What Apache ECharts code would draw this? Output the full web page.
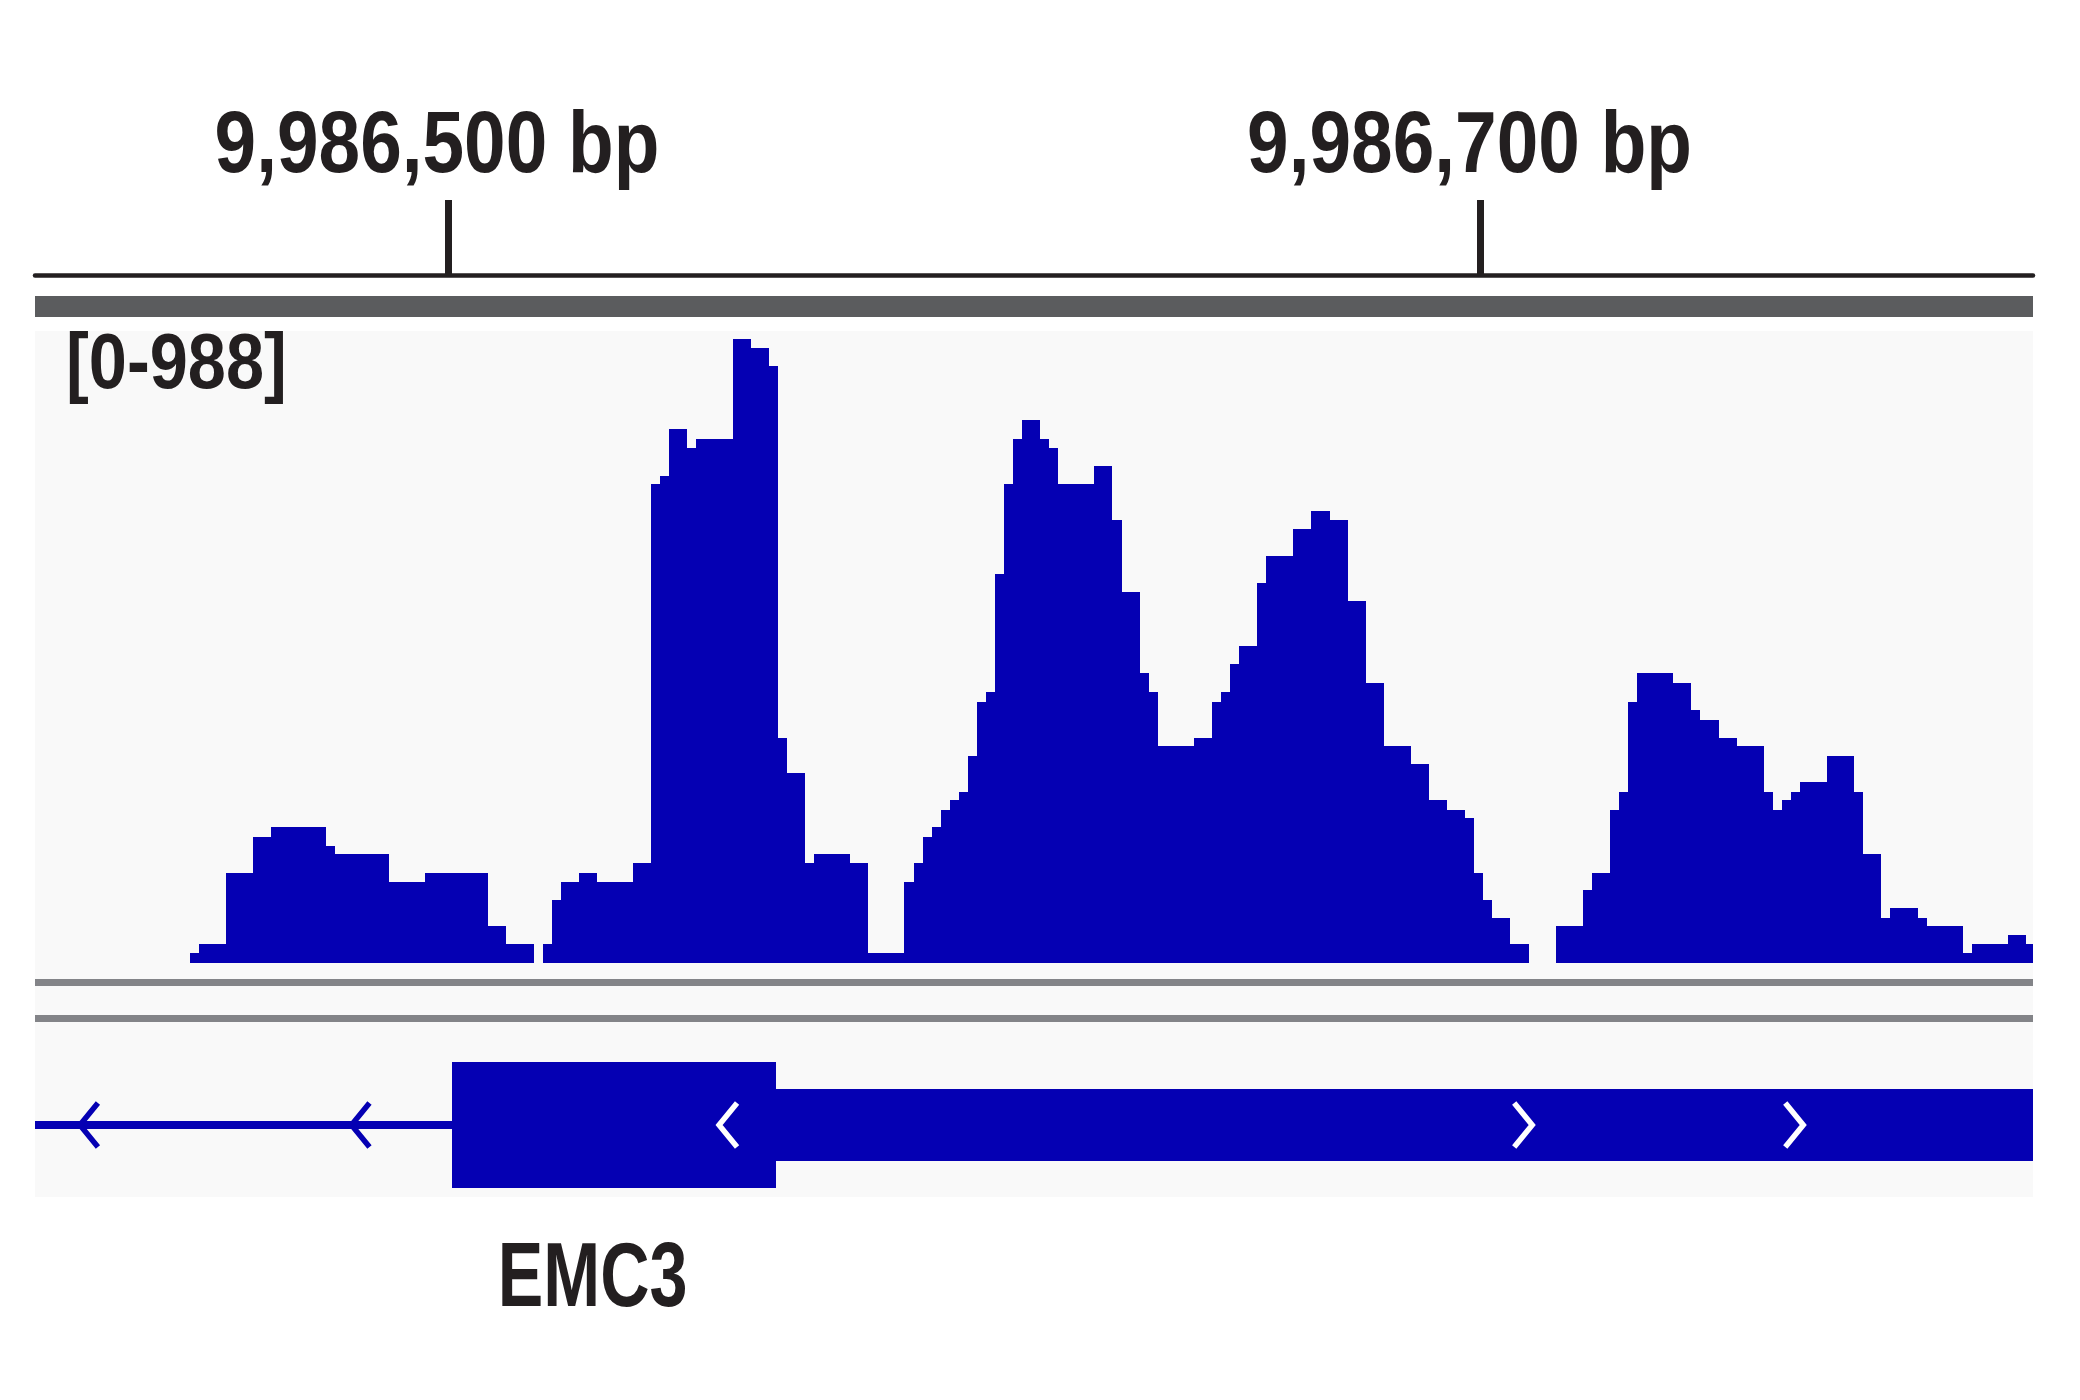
<!DOCTYPE html>
<html>
<head>
<meta charset="utf-8">
<script src="https://cdn.jsdelivr.net/npm/echarts@6/dist/echarts.min.js"></script>
<style>
html,body{margin:0;padding:0;background:#ffffff;}
#chart{width:2080px;height:1400px;}
</style>
</head>
<body>
<div id="chart"></div>
<script>
// ---------------- data ----------------
const regionStart = 9986420;          // bp at left edge of view
const regionEnd = 9986807;            // bp at right edge of view
const rulerTicks = [9986500, 9986700];
const binStart = 9986450;             // bp where first coverage bin starts
const binSize = 1.752;                // bp per coverage bin
const coverage = [
  16, 30, 30, 30, 143, 143, 143, 200, 200, 215,
  215, 215, 215, 215, 215, 186, 172, 172, 172, 172,
  172, 172, 129, 129, 129, 129, 143, 143, 143, 143,
  143, 143, 143, 58, 58, 30, 30, 30, 0, 30,
  100, 129, 129, 143, 143, 129, 129, 129, 129, 158,
  158, 758, 771, 846, 846, 815, 829, 829, 829, 829,
  988, 988, 973, 973, 945, 357, 301, 301, 158, 172,
  172, 172, 172, 158, 158, 16, 16, 16, 16, 129,
  158, 200, 215, 243, 258, 271, 328, 414, 429, 616,
  758, 829, 859, 859, 829, 815, 758, 758, 758, 758,
  787, 787, 701, 587, 587, 459, 429, 344, 344, 344,
  344, 357, 357, 414, 429, 473, 502, 502, 601, 644,
  644, 644, 687, 687, 715, 715, 701, 701, 573, 573,
  444, 444, 344, 344, 344, 315, 315, 258, 258, 243,
  243, 229, 143, 100, 72, 72, 30, 30, 0, 0,
  0, 58, 58, 58, 115, 143, 143, 243, 271, 414,
  459, 459, 459, 459, 444, 444, 400, 385, 385, 357,
  357, 344, 344, 344, 271, 243, 258, 271, 286, 286,
  286, 328, 328, 328, 271, 172, 172, 72, 87, 87,
  87, 72, 58, 58, 58, 58, 16, 30, 30, 30,
  30, 45, 45, 30
];
const dataRangeMin = 0;
const dataRangeMax = 988;
const geneName = 'EMC3';
const geneNamePos = 9986528;
const intronParts = [[9986420, 9986500.7]];
const cdsParts = [[9986500.7, 9986563.6]];
const utrParts = [[9986563.6, 9986815]];
const strandTips = [9986428.7, 9986481.3, 9986552.5, 9986710, 9986762.5];
const strandDirs = [-1, -1, -1, 1, 1];   // -1 = '<', 1 = '>'

// ---------------- style / layout ----------------
const BLUE = '#0500b3';
const INK = '#231f20';
const FONT = "'Liberation Sans', Arial, Helvetica, sans-serif";
const L = 35, R = 47, W = 2080 - L - R;

const coverageData = coverage.map((v, i) => [binStart + i * binSize, binStart + (i + 1) * binSize, v]);
const geneParts = []
  .concat(intronParts.map(p => [p[0], p[1], 0]))
  .concat(utrParts.map(p => [p[0], p[1], 1]))
  .concat(cdsParts.map(p => [p[0], p[1], 2]));
const partHeightPx = [8, 72, 126];
const exonParts = cdsParts.concat(utrParts);

const chart = echarts.init(document.getElementById('chart'), null, {renderer: 'canvas'});
chart.setOption({
  backgroundColor: '#ffffff',
  animation: false,
  graphic: [
    {type: 'rect', z: 0, shape: {x: L, y: 296, width: W, height: 21}, style: {fill: '#5b5c5e'}},
    {type: 'rect', z: 0, shape: {x: L, y: 331, width: W, height: 866}, style: {fill: '#f9f9f9'}},
    {type: 'rect', z: 0, shape: {x: L, y: 979, width: W, height: 7}, style: {fill: '#838488'}},
    {type: 'rect', z: 0, shape: {x: L, y: 1015, width: W, height: 7}, style: {fill: '#838488'}},
    {type: 'text', z: 5, x: 66, y: 367, scaleX: 0.89,
      style: {text: '[' + dataRangeMin + '-' + dataRangeMax + ']', x: 0, y: 0,
      font: 'bold 77px ' + FONT, fill: INK, align: 'left', verticalAlign: 'middle'}}
  ],
  grid: [
    {left: L, right: R, top: 339, height: 624},
    {left: L, right: R, top: 1062, height: 126}
  ],
  xAxis: [
    {
      gridIndex: 0, type: 'value', min: regionStart, max: regionEnd,
      position: 'top', offset: 64,
      axisLine: {show: true, onZero: false, lineStyle: {color: INK, width: 4.5}},
      axisTick: {show: true, customValues: rulerTicks, length: 75, inside: false,
        lineStyle: {color: INK, width: 7}},
      axisLabel: {show: false},
      splitLine: {show: false}
    },
    {
      gridIndex: 1, type: 'value', min: regionStart, max: regionEnd, show: false
    }
  ],
  yAxis: [
    {gridIndex: 0, type: 'value', min: dataRangeMin, max: dataRangeMax, show: false},
    {gridIndex: 1, type: 'value', min: 0, max: 1, show: false}
  ],
  series: [
    {
      type: 'custom', name: 'coverage', xAxisIndex: 0, yAxisIndex: 0, clip: true,
      data: coverageData,
      renderItem: function (params, api) {
        const v = api.value(2);
        if (!v) return null;
        const p0 = api.coord([api.value(0), 0]);
        const p1 = api.coord([api.value(1), v]);
        const x0 = Math.round(p0[0]), x1 = Math.round(p1[0]);
        const y0 = Math.round(p0[1]), y1 = Math.round(p1[1]);
        return {type: 'rect', shape: {x: x0, y: y1, width: x1 - x0, height: y0 - y1},
          style: {fill: BLUE}};
      }
    },
    {
      type: 'custom', name: 'rulerLabels', xAxisIndex: 0, yAxisIndex: 0, z: 4,
      data: rulerTicks.map(t => [t, dataRangeMax]),
      renderItem: function (params, api) {
        const p = api.coord([api.value(0), api.value(1)]);
        const txt = Number(api.value(0)).toLocaleString('en-US') + ' bp';
        return {type: 'text', x: p[0] - 11, y: p[1] - 191, scaleX: 0.85,
          style: {text: txt, x: 0, y: 0, font: 'bold 88px ' + FONT, fill: INK,
            align: 'center', verticalAlign: 'middle'}};
      }
    },
    {
      type: 'custom', name: 'gene', xAxisIndex: 1, yAxisIndex: 1, clip: true,
      data: geneParts,
      renderItem: function (params, api) {
        const s = api.coord([api.value(0), 0.5]);
        const e = api.coord([api.value(1), 0.5]);
        const h = partHeightPx[api.value(2)];
        const x0 = Math.round(s[0]), x1 = Math.round(e[0]);
        return {type: 'rect', shape: {x: x0, y: Math.round(s[1] - h / 2), width: x1 - x0, height: h},
          style: {fill: BLUE}};
      }
    },
    {
      type: 'custom', name: 'strand', xAxisIndex: 1, yAxisIndex: 1, z: 4,
      data: strandTips.map((t, i) => [t, strandDirs[i]]),
      renderItem: function (params, api) {
        const t = api.value(0);
        const dir = api.value(1);
        const tip = api.coord([t, 0.5]);
        const inExon = exonParts.some(p => t >= p[0] && t <= p[1]);
        return {type: 'polyline',
          shape: {points: [[tip[0] - dir * 18, tip[1] - 22], [tip[0], tip[1]], [tip[0] - dir * 18, tip[1] + 22]]},
          style: {stroke: inExon ? '#ffffff' : BLUE, lineWidth: 5.5, fill: null, lineJoin: 'miter'}};
      }
    },
    {
      type: 'custom', name: 'geneLabel', xAxisIndex: 1, yAxisIndex: 1, z: 4,
      data: [[geneNamePos, 0]],
      renderItem: function (params, api) {
        const p = api.coord([api.value(0), api.value(1)]);
        return {type: 'text', x: p[0], y: p[1] + 93, scaleX: 0.75,
          style: {text: geneName, x: 0, y: 0,
          font: 'bold 91px ' + FONT, fill: INK, align: 'center', verticalAlign: 'middle'}};
      }
    }
  ]
});
</script>
</body>
</html>
